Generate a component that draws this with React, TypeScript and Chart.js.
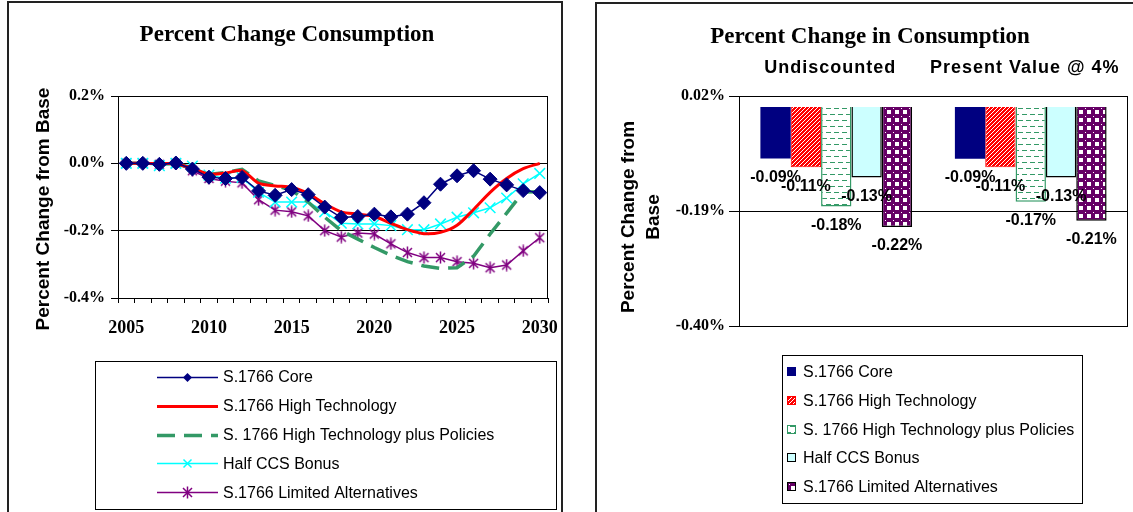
import React, { useEffect, useRef } from 'react';
import { Chart, registerables } from 'chart.js';

Chart.register(...registerables);

const SANS = '"Liberation Sans", Arial, sans-serif';
const SERIF = '"Liberation Serif", "Times New Roman", serif';

// ---------- Left chart data ----------
const years = [
  '2005', '2006', '2007', '2008', '2009', '2010', '2011', '2012', '2013',
  '2014', '2015', '2016', '2017', '2018', '2019', '2020', '2021', '2022',
  '2023', '2024', '2025', '2026', '2027', '2028', '2029', '2030',
];
const coreSeries = [
  0, 0, -0.003, 0.001, -0.017, -0.041, -0.045, -0.042, -0.082, -0.095, -0.078, -0.093, -0.130,
  -0.161, -0.158, -0.151, -0.159, -0.151, -0.117, -0.062, -0.037, -0.022, -0.047, -0.064, -0.081, -0.087,
];
const highTechSeries = [
  0, 0, -0.001, -0.001, -0.015, -0.032, -0.029, -0.022, -0.059, -0.067, -0.071, -0.090, -0.120,
  -0.144, -0.151, -0.158, -0.178, -0.197, -0.209, -0.205, -0.184, -0.137, -0.086, -0.045, -0.016, 0,
];
const highTechPoliciesSeries = [
  0, 0, -0.001, -0.001, -0.015, -0.033, -0.027, -0.018, -0.052, -0.066, -0.080, -0.115, -0.160,
  -0.200, -0.225, -0.250, -0.273, -0.292, -0.305, -0.312, -0.310, -0.276, -0.210, -0.148, -0.085, -0.084,
];
const halfCcsSeries = [
  0, 0, -0.007, 0, -0.008, -0.035, -0.044, -0.042, -0.086, -0.115, -0.115, -0.115, -0.144,
  -0.178, -0.180, -0.180, -0.185, -0.197, -0.197, -0.180, -0.160, -0.147, -0.132, -0.103, -0.061, -0.030,
];
const limitedAltSeries = [
  0, 0, -0.003, 0, -0.022, -0.045, -0.053, -0.058, -0.108, -0.139, -0.144, -0.156, -0.200,
  -0.219, -0.207, -0.210, -0.239, -0.265, -0.280, -0.280, -0.292, -0.297, -0.310, -0.302, -0.260, -0.221,
];
const lineTicks = [0.2, 0, -0.2, -0.4];
const labeledYears = ['2005', '2010', '2015', '2020', '2025', '2030'];

// ---------- Right chart data ----------
const barCategories = ['Undiscounted', 'Present Value @ 4%'];
const barCore = [-0.094, -0.0948];
const barHighTech = [-0.110, -0.110];
const barHighTechPolicies = [-0.182, -0.173];
const barHalfCcs = [-0.129, -0.129];
const barLimitedAlt = [-0.219, -0.208];
const barTicks = [0.02, -0.19, -0.40];

const seriesNames = [
  'S.1766 Core',
  'S.1766 High Technology',
  'S. 1766 High Technology plus Policies',
  'Half CCS Bonus',
  'S.1766 Limited Alternatives',
];
const leftTitle = 'Percent Change Consumption';
const rightTitle = 'Percent Change in Consumption';
const yTitle = 'Percent Change from Base';

const NAVY = '#000080';
const RED = '#FF0000';
const GREEN = '#339966';
const CYAN = '#00FFFF';
const PURPLE = '#800080';
const LIGHT_CYAN = '#CCFFFF';
const DARK_PURPLE = '#660066';

function makeTile(w: number, h: number, draw: (g: CanvasRenderingContext2D) => void) {
  const c = document.createElement('canvas');
  c.width = w;
  c.height = h;
  const g = c.getContext('2d') as CanvasRenderingContext2D;
  draw(g);
  return c;
}

function makeAsterisk(color: string) {
  return makeTile(13, 13, (g) => {
    g.strokeStyle = color;
    g.lineWidth = 1.5;
    g.beginPath();
    g.moveTo(6.5, 0.5); g.lineTo(6.5, 12.5);
    g.moveTo(2, 2); g.lineTo(11, 11);
    g.moveTo(11, 2); g.lineTo(2, 11);
    g.stroke();
  });
}

function makePatterns(ctx: CanvasRenderingContext2D) {
  const stripes = makeTile(4, 4, (g) => {
    g.fillStyle = RED;
    g.fillRect(0, 0, 4, 4);
    g.strokeStyle = '#ffffff';
    g.lineWidth = 1;
    g.beginPath();
    g.moveTo(0, 4); g.lineTo(4, 0);
    g.moveTo(-1, 1); g.lineTo(1, -1);
    g.moveTo(3, 5); g.lineTo(5, 3);
    g.stroke();
  });
  const dashes = makeTile(8, 12, (g) => {
    g.fillStyle = '#ffffff';
    g.fillRect(0, 0, 8, 12);
    g.fillStyle = GREEN;
    g.fillRect(1, 2, 5, 1);
    g.fillRect(5, 8, 3, 1);
    g.fillRect(0, 8, 2, 1);
  });
  const checks = makeTile(8, 8, (g) => {
    g.fillStyle = DARK_PURPLE;
    g.fillRect(0, 0, 8, 8);
    g.fillStyle = '#ffffff';
    g.fillRect(2, 2, 4, 4);
    g.fillRect(0, 0, 1, 1);
  });
  return {
    red: ctx.createPattern(stripes, 'repeat') as CanvasPattern,
    green: ctx.createPattern(dashes, 'repeat') as CanvasPattern,
    purple: ctx.createPattern(checks, 'repeat') as CanvasPattern,
  };
}

function drawDiamond(ctx: CanvasRenderingContext2D, x: number, y: number, r: number, color: string) {
  ctx.beginPath();
  ctx.moveTo(x - r, y); ctx.lineTo(x, y - r); ctx.lineTo(x + r, y); ctx.lineTo(x, y + r);
  ctx.closePath();
  ctx.fillStyle = color;
  ctx.fill();
}

function LeftChart() {
  const ref = useRef<HTMLCanvasElement>(null);
  useEffect(() => {
    const canvas = ref.current as HTMLCanvasElement;
    const asterisk = makeAsterisk(PURPLE);
    const decor = {
      id: 'leftDecor',
      beforeDatasetsDraw(chart: any) {
        const { ctx, chartArea: a } = chart;
        ctx.save();
        ctx.strokeStyle = '#000';
        ctx.lineWidth = 1;
        ctx.strokeRect(Math.round(a.left) + 0.5, Math.round(a.top) + 0.5, Math.round(a.right - a.left) - 1, Math.round(a.bottom - a.top));
        ctx.restore();
      },
      afterDraw(chart: any) {
        const { ctx } = chart;
        ctx.save();
        ctx.fillStyle = '#000';
        ctx.textAlign = 'center';
        ctx.textBaseline = 'middle';
        ctx.font = `bold 23px ${SERIF}`;
        ctx.fillText(leftTitle, 278, 32);
        ctx.save();
        ctx.translate(35, 206);
        ctx.rotate(-Math.PI / 2);
        ctx.font = `bold 19px ${SANS}`;
        ctx.fillText(yTitle, 0, 0);
        ctx.restore();
        // legend
        ctx.strokeStyle = '#000';
        ctx.lineWidth = 1;
        ctx.strokeRect(86.5, 358.5, 461, 148);
        ctx.font = `16px ${SANS}`;
        ctx.textAlign = 'left';
        chart.data.datasets.forEach((ds: any, i: number) => {
          const y = 374 + i * 28.8;
          ctx.save();
          ctx.strokeStyle = ds.borderColor;
          ctx.lineWidth = ds.borderWidth;
          ctx.setLineDash(ds.borderDash || []);
          ctx.beginPath();
          ctx.moveTo(148, Math.round(y) + 0.5);
          ctx.lineTo(209, Math.round(y) + 0.5);
          ctx.stroke();
          ctx.restore();
          const cx = 178.5;
          const cy = Math.round(y) + 0.5;
          if (i === 0) drawDiamond(ctx, cx, cy, 4.5, NAVY);
          if (i === 3) {
            ctx.save();
            ctx.strokeStyle = CYAN;
            ctx.lineWidth = 1.5;
            ctx.beginPath();
            ctx.moveTo(cx - 4, cy - 4); ctx.lineTo(cx + 4, cy + 4);
            ctx.moveTo(cx + 4, cy - 4); ctx.lineTo(cx - 4, cy + 4);
            ctx.stroke();
            ctx.restore();
          }
          if (i === 4) ctx.drawImage(asterisk, cx - 6.5, cy - 6.5);
          ctx.fillStyle = '#000';
          ctx.fillText(seriesNames[i], 214, y + 1);
        });
        ctx.restore();
      },
    };
    const chart = new Chart(canvas, {
      type: 'line',
      data: {
        labels: years,
        datasets: [
          {
            label: seriesNames[0], data: coreSeries, borderColor: NAVY, backgroundColor: NAVY,
            borderWidth: 1.5, pointStyle: 'rectRot', pointRadius: 7, pointBorderWidth: 1, tension: 0,
          },
          {
            label: seriesNames[1], data: highTechSeries, borderColor: RED, backgroundColor: RED,
            borderWidth: 3, pointRadius: 0, tension: 0.3,
          },
          {
            label: seriesNames[2], data: highTechPoliciesSeries, borderColor: GREEN, backgroundColor: GREEN,
            borderWidth: 3.5, borderDash: [18, 9], pointRadius: 0, tension: 0,
          },
          {
            label: seriesNames[3], data: halfCcsSeries, borderColor: CYAN, backgroundColor: CYAN,
            borderWidth: 1.5, pointStyle: 'crossRot', pointRadius: 7.5, pointBorderWidth: 1.5, tension: 0,
          },
          {
            label: seriesNames[4], data: limitedAltSeries, borderColor: PURPLE, backgroundColor: PURPLE,
            borderWidth: 1.5, pointStyle: asterisk as any, pointRadius: 6, tension: 0,
          },
        ],
      },
      options: {
        responsive: false,
        animation: false,
        layout: { padding: { left: 49, top: 93, right: 13, bottom: 169 } },
        plugins: { legend: { display: false }, tooltip: { enabled: false }, title: { display: false } },
        scales: {
          x: {
            type: 'category',
            offset: true,
            grid: { offset: true, drawOnChartArea: false, drawTicks: true, tickLength: 5, color: '#000' },
            border: { color: '#000', width: 1 },
            ticks: {
              autoSkip: false,
              maxRotation: 0,
              padding: 15,
              color: '#000',
              font: { family: SERIF, size: 18, weight: 'bold' },
              callback: (_v: any, i: number) => (labeledYears.includes(years[i]) ? years[i] : ''),
            },
            afterFit: (s: any) => { s.height = 45; s.paddingLeft = 0; s.paddingRight = 0; },
          },
          y: {
            min: -0.4,
            max: 0.2,
            afterBuildTicks: (s: any) => { s.ticks = lineTicks.map((v) => ({ value: v })); },
            grid: { color: '#000', tickLength: 7, lineWidth: 1 },
            border: { color: '#000', width: 1 },
            ticks: {
              padding: 6,
              color: '#000',
              font: { family: SERIF, size: 16, weight: 'bold' },
              callback: (v: any) => `${(Math.round(Number(v) * 10) / 10).toFixed(1)}%`,
            },
            afterFit: (s: any) => { s.width = 60; s.paddingTop = 0; s.paddingBottom = 0; },
          },
        },
      } as any,
      plugins: [decor],
    });
    return () => chart.destroy();
  }, []);
  return <canvas ref={ref} width={552} height={509} style={{ position: 'absolute', left: 9, top: 3 }} />;
}

function RightChart() {
  const ref = useRef<HTMLCanvasElement>(null);
  useEffect(() => {
    const canvas = ref.current as HTMLCanvasElement;
    const ctx0 = canvas.getContext('2d') as CanvasRenderingContext2D;
    const pat = makePatterns(ctx0);
    const decor = {
      id: 'rightDecor',
      beforeDatasetsDraw(chart: any) {
        const { ctx, chartArea: a } = chart;
        ctx.save();
        ctx.strokeStyle = '#000';
        ctx.lineWidth = 1;
        ctx.strokeRect(Math.round(a.left) + 0.5, Math.round(a.top) + 0.5, Math.round(a.right - a.left) - 1, Math.round(a.bottom - a.top));
        ctx.restore();
      },
      afterDatasetsDraw(chart: any) {
        const { ctx } = chart;
        ctx.save();
        ctx.fillStyle = '#000';
        ctx.font = `bold 16px ${SANS}`;
        ctx.textAlign = 'center';
        ctx.textBaseline = 'middle';
        chart.data.datasets.forEach((ds: any, di: number) => {
          const meta = chart.getDatasetMeta(di);
          meta.data.forEach((el: any, i: number) => {
            ctx.fillText(`${Number(ds.data[i]).toFixed(2)}%`, el.x, el.y + 19);
          });
        });
        ctx.restore();
      },
      afterDraw(chart: any) {
        const { ctx } = chart;
        ctx.save();
        ctx.fillStyle = '#000';
        ctx.textAlign = 'center';
        ctx.textBaseline = 'middle';
        ctx.font = `bold 23px ${SERIF}`;
        ctx.fillText(rightTitle, 273, 33);
        // category captions above the plot (letter-spaced, as in the original)
        ctx.save();
        ctx.font = `bold 18px ${SANS}`;
        try { (ctx as any).letterSpacing = '1px'; } catch (e) { /* ignore */ }
        const xs = chart.scales.x;
        chart.data.labels.forEach((lab: string, i: number) => {
          ctx.fillText(lab, xs.getPixelForValue(i) - 6, 64);
        });
        ctx.restore();
        ctx.font = `bold 19px ${SANS}`;
        ctx.save();
        ctx.translate(32, 213);
        ctx.rotate(-Math.PI / 2);
        ctx.fillText('Percent Change from', 0, 0);
        ctx.restore();
        ctx.save();
        ctx.translate(57, 213);
        ctx.rotate(-Math.PI / 2);
        ctx.fillText('Base', 0, 0);
        ctx.restore();
        // legend
        ctx.strokeStyle = '#000';
        ctx.lineWidth = 1;
        ctx.strokeRect(185.5, 351.5, 300, 148);
        ctx.font = `16px ${SANS}`;
        ctx.textAlign = 'left';
        chart.data.datasets.forEach((ds: any, i: number) => {
          const y = 367.7 + i * 28.75;
          const sy = Math.round(y - 4.5);
          ctx.fillStyle = ds.backgroundColor;
          ctx.fillRect(190, sy, 9, 9);
          if (ds.borderWidth > 0) {
            ctx.strokeStyle = ds.borderColor;
            ctx.lineWidth = 1;
            ctx.strokeRect(190.5, sy + 0.5, 8, 8);
          }
          ctx.fillStyle = '#000';
          ctx.fillText(seriesNames[i], 206, y + 1);
        });
        ctx.restore();
      },
    };
    const chart = new Chart(canvas, {
      type: 'bar',
      data: {
        labels: barCategories,
        datasets: [
          { label: seriesNames[0], data: barCore, backgroundColor: NAVY, borderColor: NAVY, borderWidth: 0 },
          { label: seriesNames[1], data: barHighTech, backgroundColor: pat.red, borderColor: RED, borderWidth: 1 },
          { label: seriesNames[2], data: barHighTechPolicies, backgroundColor: pat.green, borderColor: GREEN, borderWidth: 1.5 },
          { label: seriesNames[3], data: barHalfCcs, backgroundColor: LIGHT_CYAN, borderColor: '#000', borderWidth: 1.5 },
          { label: seriesNames[4], data: barLimitedAlt, backgroundColor: pat.purple, borderColor: '#000', borderWidth: 1.5 },
        ],
      },
      options: {
        responsive: false,
        animation: false,
        datasets: { bar: { categoryPercentage: 0.78, barPercentage: 1 } },
        layout: { padding: { left: 72, top: 52, right: 5, bottom: 186 } },
        plugins: { legend: { display: false }, tooltip: { enabled: false }, title: { display: false } },
        scales: {
          x: {
            position: 'top',
            grid: { display: false, drawTicks: false },
            border: { display: false },
            ticks: { display: false },
            afterFit: (s: any) => { s.height = 40; s.paddingLeft = 0; s.paddingRight = 0; },
          },
          y: {
            min: -0.4,
            max: 0.02,
            afterBuildTicks: (s: any) => { s.ticks = barTicks.map((v) => ({ value: v })); },
            grid: { color: '#000', tickLength: 10, lineWidth: 1 },
            border: { color: '#000', width: 1 },
            ticks: {
              padding: 4,
              color: '#000',
              font: { family: SERIF, size: 16, weight: 'bold' },
              callback: (v: any) => `${Number(v).toFixed(2)}%`,
            },
            afterFit: (s: any) => { s.width = 70; s.paddingTop = 0; s.paddingBottom = 0; },
          },
        },
      } as any,
      plugins: [decor],
    });
    return () => chart.destroy();
  }, []);
  return <canvas ref={ref} width={536} height={508} style={{ position: 'absolute', left: 597, top: 4 }} />;
}

export default function App() {
  return (
    <div style={{ position: 'absolute', left: 0, top: 0, width: 1133, height: 512, overflow: 'hidden', background: '#fff' }}>
      <div style={{ position: 'absolute', left: 7, top: 1, width: 556, height: 540, border: '2px solid #222', boxSizing: 'border-box' }} />
      <div style={{ position: 'absolute', left: 595, top: 2, width: 580, height: 540, border: '2px solid #222', boxSizing: 'border-box' }} />
      <LeftChart />
      <RightChart />
    </div>
  );
}
